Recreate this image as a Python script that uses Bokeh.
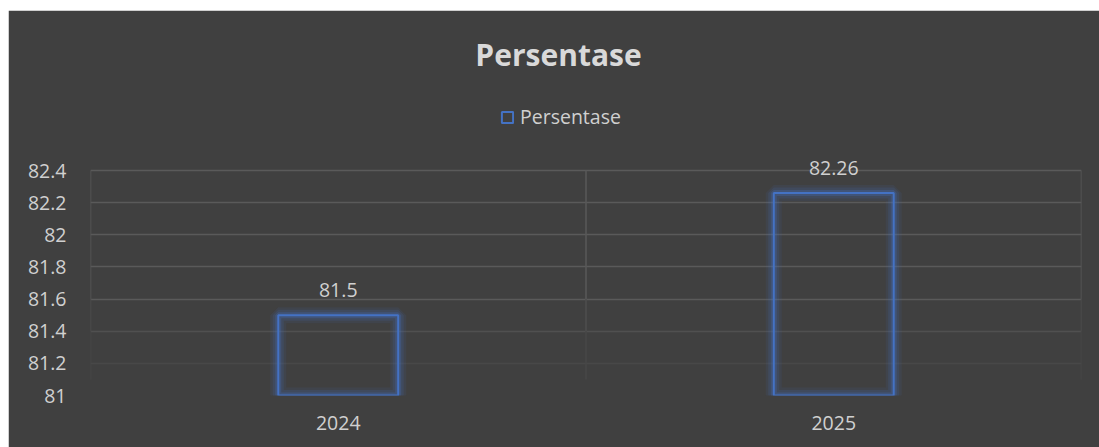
from bokeh.plotting import figure
from bokeh.layouts import column, row
from bokeh.models import (ColumnDataSource, FactorRange, Range1d, FixedTicker, Spacer, Grid,
                          LabelSet, Label, Legend, LegendItem)
from bokeh.core.properties import value
from bokeh.embed import file_html
from bokeh.resources import INLINE

categories = ["2024", "2025"]
values = [81.5, 82.26]
value_labels = ["81.5", "82.26"]
y_ticks = [81, 81.2, 81.4, 81.6, 81.8, 82, 82.2, 82.4]
y_tick_labels = ["81", "81.2", "81.4", "81.6", "81.8", "82", "82.2", "82.4"]
series_name = "Persentase"
title_text = "Persentase"

BG = "#404040"
TXT = "#d0d0d0"
BLUE = "#4472C4"
FONT = "Open Sans"

W, H = 1091, 437
BL, BR, BB, BT = 82, 18, 52, 4
frame_h = H - BB - BT
y_min, y_max_tick = y_ticks[0], y_ticks[-1]
y_top = y_min + (y_max_tick - y_min) * frame_h / 225.0

src = ColumnDataSource(dict(cat=categories, val=values, lab=value_labels))

p = figure(width=W, height=H, x_range=FactorRange(*categories),
           y_range=Range1d(y_min, y_top), output_backend="svg", toolbar_location=None,
           background_fill_color=BG, border_fill_color=BG,
           outline_line_color=BG, outline_line_width=3,
           min_border_left=BL, min_border_right=BR, min_border_top=BT, min_border_bottom=BB)
p.x_range.range_padding = 0

# horizontal gridlines, fading toward the bottom like the original
p.ygrid.grid_line_color = None
for ticks, col in [(y_ticks[3:], "#5a5a5a"), (y_ticks[2:3], "#505050"),
                   (y_ticks[1:2], "#484848")]:
    p.add_layout(Grid(dimension=1, ticker=FixedTicker(ticks=ticks),
                      grid_line_color=col, grid_line_width=1.5))
p.xgrid.grid_line_color = None

# vertical category separators (fading toward the bottom)
edges = [0, 1, 2]
for y0, y1, col in [(y_ticks[3], y_max_tick, "#585858"), (y_ticks[2], y_ticks[3], "#4e4e4e"),
                    (81.1, y_ticks[2], "#474747")]:
    p.segment(x0=edges, x1=edges, y0=[y0] * 3, y1=[y1] * 3, line_color=col, line_width=1.5)

# glow layers
for lw, a in [(16, 0.09), (11, 0.15), (6, 0.26)]:
    p.vbar(x="cat", top="val", bottom=y_min, width=0.242, source=src, fill_alpha=0,
           line_color=BLUE, line_width=lw, line_alpha=a)
main = p.vbar(x="cat", top="val", bottom=y_min, width=0.242, source=src, fill_alpha=0,
              line_color=BLUE, line_width=2)

# axes
p.yaxis.ticker = FixedTicker(ticks=y_ticks)
p.yaxis.major_label_overrides = {t: l for t, l in zip(y_ticks, y_tick_labels)}
for ax in (p.xaxis[0], p.yaxis[0]):
    ax.axis_line_color = None
    ax.major_tick_line_color = None
    ax.minor_tick_line_color = None
    ax.major_label_text_color = TXT
    ax.major_label_text_font = FONT
    ax.major_label_text_font_size = "19.5px"
p.yaxis.major_label_standoff = 18
p.xaxis.major_label_standoff = 14

labels = LabelSet(x="cat", y="val", text="lab", source=src, y_offset=25,
                  text_align="center", text_baseline="middle", text_color=TXT,
                  text_font=value(FONT), text_font_size="19.5px")
p.add_layout(labels)

p.add_layout(Label(x=468, y=341, x_units="screen", y_units="screen", text=title_text,
                   text_align="center", text_baseline="middle", text_color="#d9d9d9",
                   text_font=FONT, text_font_style="bold", text_font_size="30px"))

legend = Legend(items=[LegendItem(label=series_name, renderers=[main])],
                location=(410, 265), orientation="horizontal",
                background_fill_alpha=0, border_line_alpha=0, padding=0, margin=0,
                glyph_width=14, glyph_height=14, label_standoff=6,
                label_text_color=TXT, label_text_font=FONT, label_text_font_size="19.5px")
p.add_layout(legend, "center")

layout = column(Spacer(height=10), row(Spacer(width=8), p, spacing=0), spacing=0)
open("out.html", "w").write(file_html(layout, INLINE))
